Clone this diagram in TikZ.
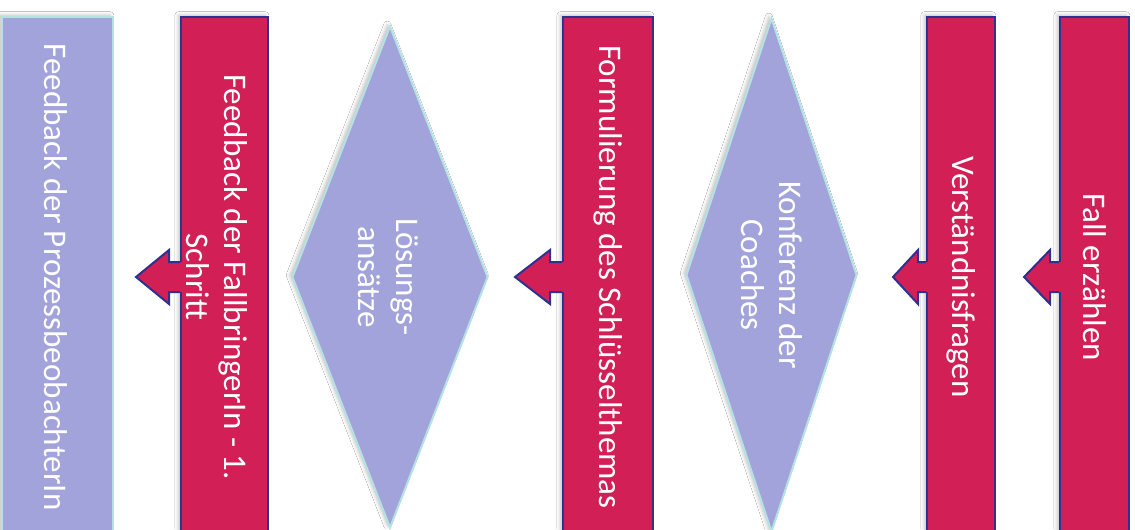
\documentclass[tikz,border=0pt]{standalone}
\usepackage{fontspec}
\setmainfont{Carlito}
\usetikzlibrary{shapes.geometric,calc,shadows.blur}
\definecolor{stepred}{RGB}{210,31,85}
\definecolor{steplav}{RGB}{163,163,220}
\definecolor{stepblue}{RGB}{46,49,146}
\definecolor{stepcyan}{RGB}{180,225,225}
\newlength\pxu
\setlength\pxu{0.02cm}
\tikzset{
  softshadow/.style={blur shadow={shadow xshift=-1.5pt, shadow yshift=1pt, shadow blur radius=2pt, shadow opacity=25}},
  redbar/.style={rectangle, fill=stepred, draw=stepblue, line width=2\pxu, minimum height=520\pxu, inner sep=0pt, softshadow},
  lavbar/.style={rectangle, fill=steplav, draw=stepcyan, line width=2\pxu, minimum height=520\pxu, inner sep=0pt, softshadow},
  lavdiamond/.style={diamond, fill=steplav, draw=stepcyan, line width=2\pxu, inner sep=0pt, softshadow},
  steptext/.style={rotate=-90, text=white, align=center, font=\fontsize{18.8}{21.5}\selectfont},
}
% block arrow: from node, tip coordinate, head length
\newcommand{\steparrow}[3]{%
  \fill[stepred] let \p1=(#1.west), \p2=(#2) in
    (\x1+2\pxu,\y1+15\pxu) -- (\x2+#3\pxu,\y1+15\pxu) -- (\x2+#3\pxu,\y1+27\pxu) -- (\x2,\y1)
    -- (\x2+#3\pxu,\y1-27\pxu) -- (\x2+#3\pxu,\y1-15\pxu) -- (\x1+2\pxu,\y1-15\pxu) -- cycle;
  \draw[stepblue, line width=2\pxu, line join=miter] let \p1=(#1.west), \p2=(#2) in
    (\x1,\y1+15\pxu) -- (\x2+#3\pxu,\y1+15\pxu) -- (\x2+#3\pxu,\y1+27\pxu) -- (\x2,\y1)
    -- (\x2+#3\pxu,\y1-27\pxu) -- (\x2+#3\pxu,\y1-15\pxu) -- (\x1,\y1-15\pxu);
}
\begin{document}
\begin{tikzpicture}[x=\pxu, y=\pxu]
  \clip (0,0) rectangle (1135,529);
  \fill[white] (0,0) rectangle (1135,529);

  % steps, right to left
  \node[redbar, minimum width=69\pxu] (fall) at (1094.5,252) {};
  \node[redbar, minimum width=68\pxu] (verst) at (961,252) {};
  \node[lavdiamond, minimum width=171\pxu, minimum height=514\pxu] (konferenz) at (771.5,254) {};
  \node[redbar, minimum width=90\pxu] (formul) at (608,252) {};
  \node[lavdiamond, minimum width=196\pxu, minimum height=502\pxu] (loesung) at (390,252) {};
  \node[redbar, minimum width=87\pxu] (fallbr) at (224.5,252) {};
  \node[lavbar, minimum width=111\pxu] (prozess) at (57.5,252) {};

  % texts
  \node[steptext] (fall-t) at (fall.center) {Fall erzählen};
  \node[steptext] (verst-t) at (verst.center) {Verständnisfragen};
  \node[steptext] (konferenz-t) at (konferenz.center) {Konferenz der\\Coaches};
  \node[steptext] (formul-t) at (formul.center) {Formulierung des Schlüsselthemas};
  \node[steptext] (loesung-t) at ($(loesung.center)+(-2,0)$) {Lösungs-\\ansätze};
  \node[steptext] (fallbr-t) at ($(fallbr.center)+(-8,0)$) {Feedback der FallbringerIn - 1.\\Schritt};
  \node[steptext] (prozess-t) at ($(prozess.center)+(-2,0)$) {Feedback der ProzessbeobachterIn};

  % arrows
  \coordinate (tip1) at ($(verst.east)+(28,0)$);
  \coordinate (tip2) at ($(konferenz.east)+(35,0)$);
  \coordinate (tip3) at ($(loesung.east)+(26,0)$);
  \coordinate (tip4) at ($(prozess.east)+(22,0)$);
  \steparrow{fall}{tip1}{26}
  \steparrow{verst}{tip2}{25}
  \steparrow{formul}{tip3}{35}
  \steparrow{fallbr}{tip4}{33}
\end{tikzpicture}
\end{document}
